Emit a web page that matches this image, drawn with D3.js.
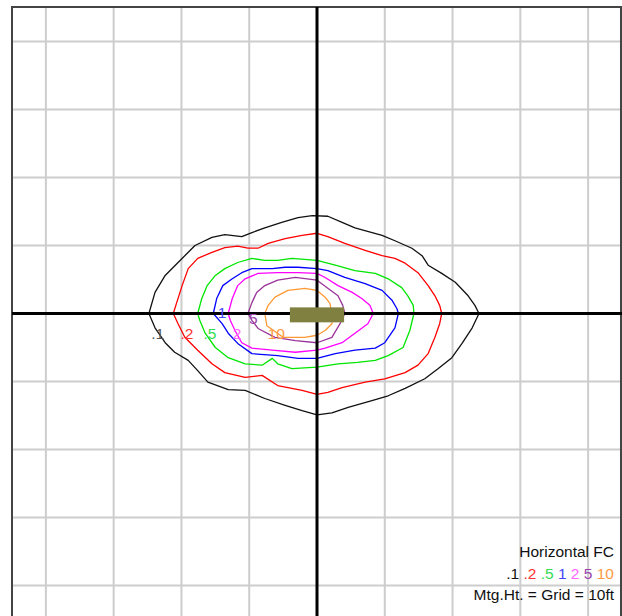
<!DOCTYPE html>
<html>
<head>
<meta charset="utf-8">
<script src="https://cdn.jsdelivr.net/npm/d3@7"></script>
<style>
  html, body { margin: 0; padding: 0; background: #fff; }
  svg { display: block; }
  text { font-family: "Liberation Sans", Arial, sans-serif; }
</style>
</head>
<body>
<svg id="chart" width="622" height="616"></svg>
<script>
// Isofootcandle plot: horizontal illuminance contours, distances in feet
// (grid spacing = mounting height = 10 ft).

const gridTicks = [-40, -30, -20, -10, 0, 10, 20, 30, 40];

const levels = [".1", ".2", ".5", "1", "2", "5", "10"];
const levelColors = ["#111111", "#ff0000", "#00e600", "#0000ff", "#ff00ff", "#993399", "#ff9933"];
const labelColors = ["#555555", "#ff3333", "#33dd55", "#4444ff", "#ff66ff", "#9944aa", "#ff9944"];

// contour outlines, [x ft, y ft]
const fc01 = [[-24.8,0],[-23.9,3.1],[-22.4,5.6],[-20.5,7.5],[-18.0,10.0],[-15.5,11.2],[-13.6,11.6],[-11.1,11.3],[-9.6,11.9],[-7.7,12.6],[-5.2,13.4],[-2.8,14.1],[-0.7,14.4],[1.6,14.3],[3.7,13.4],[5.6,12.6],[9.6,11.5],[11.5,10.7],[14.0,9.6],[15.5,8.5],[16.4,7.1],[18.4,5.9],[20.4,4.6],[22.3,2.6],[23.3,1.2],[23.9,0],[22.9,-2.1],[21.4,-4.4],[19.9,-6.5],[17.9,-8.1],[15.9,-9.6],[13.0,-11.0],[10.5,-12.1],[8.1,-12.8],[4.6,-13.8],[2.2,-14.6],[0,-14.9],[-2.2,-14.3],[-4.7,-13.5],[-7.7,-12.5],[-10.6,-11.3],[-13.1,-11.2],[-16.1,-10.1],[-17.6,-8.4],[-19.0,-6.9],[-21.0,-5.7],[-22.4,-4.3],[-23.9,-2.1]];
const fc02 = [[-21.2,0],[-20.7,1.6],[-19.9,4.1],[-19.0,6.6],[-17.6,8.1],[-15.5,9.0],[-13.6,9.7],[-11.7,9.9],[-10.2,9.6],[-8.7,9.6],[-7.2,10.3],[-4.7,11.0],[-2.2,11.5],[0,11.8],[1.6,11.3],[4.1,10.3],[7.1,9.3],[9.6,8.5],[11.5,8.1],[13.0,7.4],[14.9,6.0],[16.4,4.1],[17.4,2.6],[18.1,1.2],[18.4,0],[18.1,-1.5],[17.4,-3.5],[16.4,-5.9],[14.9,-7.6],[13.0,-8.7],[10.0,-9.6],[7.1,-10.1],[3.7,-10.9],[1.6,-11.6],[0,-11.9],[-2.2,-11.3],[-5.8,-10.6],[-8.1,-9.1],[-10.6,-9.4],[-13.6,-8.7],[-15.5,-7.4],[-17.6,-5.4],[-19.5,-3.5],[-20.5,-1.5]];
const fc05 = [[-17.6,0],[-17.0,2.2],[-16.2,4.1],[-15.0,5.6],[-13.6,6.6],[-11.7,7.5],[-9.6,8.1],[-7.7,7.8],[-5.8,7.8],[-3.7,8.1],[0,7.8],[2.7,7.1],[5.6,6.3],[8.6,5.9],[10.5,5.1],[12.5,3.8],[13.4,2.6],[14.2,1.2],[14.3,0],[13.7,-2.5],[12.7,-5.0],[10.5,-6.2],[8.6,-6.9],[6.0,-7.2],[3.1,-7.4],[0,-7.9],[-3.7,-8.1],[-5.8,-7.4],[-6.6,-6.6],[-8.1,-7.6],[-10.6,-7.4],[-13.1,-6.5],[-15.0,-5.0],[-16.5,-2.9],[-17.3,-1.0]];
const fc1 = [[-15.3,0],[-14.8,2.2],[-13.9,4.1],[-12.5,5.1],[-11.1,6.0],[-9.6,6.6],[-6.6,6.6],[-4.7,6.8],[-2.8,6.8],[0,6.6],[1.6,6.3],[4.1,5.3],[7.1,4.4],[9.6,3.4],[11.1,1.9],[11.8,0.7],[12.0,0],[11.5,-2.1],[10.0,-4.3],[8.6,-5.1],[5.6,-5.4],[2.7,-5.9],[0,-6.6],[-2.8,-6.6],[-5.8,-6.2],[-9.6,-5.9],[-11.7,-4.4],[-13.1,-2.9],[-14.0,-1.5]];
const fc2 = [[-13.1,0],[-12.5,2.2],[-11.7,4.1],[-10.6,5.1],[-8.7,5.9],[-5.8,6.0],[-2.8,6.0],[0,5.9],[1.2,5.3],[3.1,4.1],[5.2,3.1],[6.6,2.2],[7.8,1.2],[8.3,0],[7.5,-1.5],[5.6,-2.9],[3.7,-4.3],[1.2,-5.1],[0,-5.4],[-3.2,-5.7],[-6.6,-5.4],[-9.6,-5.1],[-11.1,-4.3],[-12.1,-2.5],[-12.8,-1.0]];
const fc5 = [[-10.2,0],[-9.6,1.6],[-8.9,3.1],[-7.7,4.1],[-5.8,4.9],[-3.2,5.3],[0,4.9],[1.6,3.7],[3.1,2.6],[3.8,1.2],[4.1,0],[3.4,-1.5],[2.2,-3.5],[0,-4.3],[-3.2,-4.0],[-6.2,-3.5],[-8.7,-2.2],[-9.6,-1.0]];
const fc10 = [[-7.7,0],[-7.2,1.2],[-6.2,2.4],[-4.3,3.4],[-1.8,3.7],[0,3.4],[1.2,2.4],[1.9,1.5],[2.2,0],[2.2,-1.5],[1.2,-2.5],[0,-3.2],[-1.8,-3.5],[-5.0,-3.5],[-7.4,-1.8]];
const contours = [fc01, fc02, fc05, fc1, fc2, fc5, fc10];

// in-plot level label anchors [x ft, y ft]
const labelAnchors = [[-23.5,-3.8],[-19.2,-3.8],[-15.8,-3.8],[-14.0,-0.6],[-11.8,-3.8],[-9.4,-1.5],[-6.0,-3.7]];

// luminaire footprint, ft
const fixtureX = [-4, 4];
const fixtureY = [-1.3, 0.9];

const W = 622, H = 616;
const svg = d3.select("#chart");

const x = d3.scaleLinear().domain([-45, 45]).range([12, 622]);
const y = d3.scaleLinear().domain([45, -45]).range([7.5, 619.5]);

// background grid
const grid = svg.append("g");
grid.selectAll("line.v").data(gridTicks.filter(d => d !== 0)).join("line")
  .attr("x1", d => x(d)).attr("x2", d => x(d))
  .attr("y1", 7).attr("y2", H)
  .attr("stroke", "#cdcdcd").attr("stroke-width", 2);
grid.selectAll("line.h").data(gridTicks.filter(d => d !== 0)).join("line")
  .attr("x1", 12).attr("x2", W)
  .attr("y1", d => y(d)).attr("y2", d => y(d))
  .attr("stroke", "#cdcdcd").attr("stroke-width", 2);

// frame
svg.append("path")
  .attr("d", `M12,${H} L12,7 L621,7 L621,${H}`)
  .attr("fill", "none").attr("stroke", "#444").attr("stroke-width", 2);

// legend
const legend = svg.append("g").attr("text-anchor", "end").attr("font-size", 15.5).attr("fill", "#111");
legend.append("text").attr("x", 614).attr("y", 557).text("Horizontal FC");
const row = legend.append("text").attr("x", 614).attr("y", 579);
levels.forEach((lv, i) => {
  row.append("tspan").attr("fill", i === 0 ? "#111" : labelColors[i]).text((i ? " " : "") + lv);
});
legend.append("text").attr("x", 614).attr("y", 600).text("Mtg.Ht. = Grid = 10ft");

// isofootcandle contours
const contourLine = d3.line().x(p => x(p[0])).y(p => y(p[1])).curve(d3.curveLinearClosed);
svg.append("g").selectAll("path").data(contours).join("path")
  .attr("d", contourLine)
  .attr("fill", "none")
  .attr("stroke", (d, i) => levelColors[i])
  .attr("stroke-width", 1.3)
  .attr("stroke-linejoin", "round");

// axes through the luminaire
svg.append("line").attr("x1", 12).attr("x2", W).attr("y1", y(0)).attr("y2", y(0))
  .attr("stroke", "#000").attr("stroke-width", 3);
svg.append("line").attr("x1", x(0)).attr("x2", x(0)).attr("y1", 7).attr("y2", H)
  .attr("stroke", "#000").attr("stroke-width", 3);

// luminaire
svg.append("rect")
  .attr("x", x(fixtureX[0])).attr("width", x(fixtureX[1]) - x(fixtureX[0]))
  .attr("y", y(fixtureY[1])).attr("height", y(fixtureY[0]) - y(fixtureY[1]))
  .attr("fill", "#808040");

// level labels
svg.append("g").attr("text-anchor", "middle").attr("font-size", 15.5)
  .selectAll("text").data(levels).join("text")
  .attr("x", (d, i) => x(labelAnchors[i][0]))
  .attr("y", (d, i) => y(labelAnchors[i][1]))
  .attr("fill", (d, i) => labelColors[i])
  .text(d => d);
</script>
</body>
</html>
